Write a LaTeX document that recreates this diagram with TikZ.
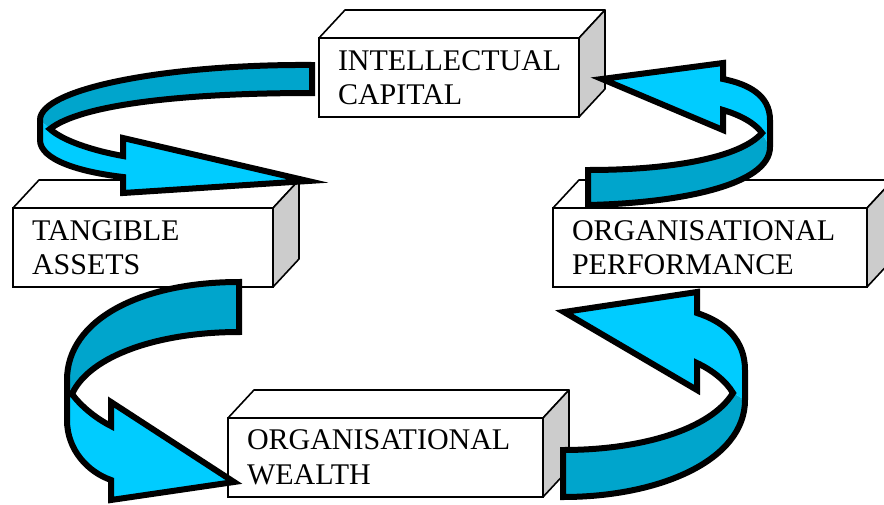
\documentclass[tikz,border=0pt]{standalone}
\usepackage{fontspec}
\setmainfont{Liberation Serif}
\usetikzlibrary{calc}
\uchyph=0
\definecolor{arrowfront}{RGB}{0,204,255}
\definecolor{arrowback}{RGB}{0,165,204}
\definecolor{boxside}{RGB}{204,204,204}
\begin{document}
\begin{tikzpicture}[x=1pt,y=-1pt,
  boxfront/.style={draw=black, line width=1.6pt, fill=white, anchor=north west,
    minimum height=79pt, inner xsep=19pt, inner ysep=0pt, outer sep=0pt,
    align=left, font=\fontsize{30}{34.5}\selectfont},
  boxface/.style={draw=black, line width=1.6pt, line join=round},
  bandback/.style={fill=arrowback},
  bandfront/.style={fill=arrowfront},
  bandline/.style={draw=black, line width=6pt, line join=miter},
]
\useasboundingbox (0,0) rectangle (884,504);

% the four blocks: front faces carry the labels
\node[boxfront, text width=222pt] (ic) at (319,38)  {INTELLECTUAL\\CAPITAL};
\node[boxfront, text width=222pt] (ta) at (13,208)  {TANGIBLE\\ASSETS};
\node[boxfront, text width=276pt] (op) at (553,208) {ORGANISATIONAL\\PERFORMANCE};
\node[boxfront, text width=277pt] (ow) at (228,418) {ORGANISATIONAL\\WEALTH};

% top and side faces of each block
\foreach \n in {ic,ta,op,ow} {
  \draw[boxface, fill=white] (\n.north west) -- ($(\n.north west)+(26,-28)$)
    -- ($(\n.north east)+(26,-28)$) -- (\n.north east) -- cycle;
  \draw[boxface, fill=boxside] (\n.north east) -- ($(\n.north east)+(26,-28)$)
    -- ($(\n.south east)+(26,-28)$) -- (\n.south east) -- cycle;
}

% curved band from intellectual capital to tangible assets
\coordinate (s1t) at (312,65);
\coordinate (s1b) at (312,93);
\coordinate (j1o) at (40,120);
\coordinate (j1i) at (50,129);
\coordinate (h1) at (308,181);
\fill[bandback] (s1t) .. controls (170,64) and (40,88) .. (j1o) -- (j1i)
  .. controls (80,105) and (180,93) .. (s1b) -- cycle;
\fill[bandfront] (j1o) -- (40,140) .. controls (40,160) and (80,172) .. (123,177)
  -- (123,193) -- (h1) -- (123,138) -- (123,156)
  .. controls (90,150) and (62,140) .. (j1i) -- cycle;
\draw[bandline] (s1t) .. controls (170,64) and (40,88) .. (j1o)
  -- (40,140) .. controls (40,160) and (80,172) .. (123,177)
  -- (123,193) -- (h1) -- (123,138) -- (123,156)
  .. controls (90,150) and (62,140) .. (j1i)
  .. controls (80,105) and (180,93) .. (s1b) -- cycle;

% curved band from organisational performance to intellectual capital
\coordinate (s2t) at (588,170);
\coordinate (s2b) at (588,205);
\coordinate (j2o) at (770,147);
\coordinate (j2i) at (762,133);
\coordinate (h2) at (602,79);
\fill[bandback] (s2b) .. controls (680,203) and (770,185) .. (j2o) -- (j2i)
  .. controls (740,158) and (670,170) .. (s2t) -- cycle;
\fill[bandfront] (j2o) -- (770,120) .. controls (770,95) and (748,84) .. (723,79)
  -- (723,63) -- (h2) -- (723,130) -- (723,110)
  .. controls (740,115) and (755,123) .. (j2i) -- cycle;
\draw[bandline] (s2b) .. controls (680,203) and (770,185) .. (j2o)
  -- (770,120) .. controls (770,95) and (748,84) .. (723,79)
  -- (723,63) -- (h2) -- (723,130) -- (723,110)
  .. controls (740,115) and (755,123) .. (j2i)
  .. controls (740,158) and (670,170) .. (s2t) -- cycle;

% curved band from tangible assets to organisational wealth
\coordinate (s3t) at (239,282);
\coordinate (s3b) at (239,332);
\coordinate (j3o) at (67,380);
\coordinate (j3i) at (72,394);
\coordinate (h3) at (234,482);
\fill[bandback] (s3t) .. controls (140,282) and (67,320) .. (j3o) -- (j3i)
  .. controls (90,355) and (160,332) .. (s3b) -- cycle;
\fill[bandfront] (j3o) -- (67,420) .. controls (67,450) and (88,472) .. (111,480)
  -- (111,500) -- (h3) -- (111,402) -- (111,426)
  .. controls (95,418) and (80,405) .. (j3i) -- cycle;
\draw[bandline] (s3t) .. controls (140,282) and (67,320) .. (j3o)
  -- (67,420) .. controls (67,450) and (88,472) .. (111,480)
  -- (111,500) -- (h3) -- (111,402) -- (111,426)
  .. controls (95,418) and (80,405) .. (j3i)
  .. controls (90,355) and (160,332) .. (s3b) -- cycle;

% curved band from organisational wealth to organisational performance
\coordinate (s4t) at (563,450);
\coordinate (s4b) at (563,497);
\coordinate (j4o) at (745,400);
\coordinate (j4i) at (733,393);
\coordinate (h4) at (564,312);
\fill[bandback] (s4b) .. controls (660,497) and (745,460) .. (j4o) -- (j4i)
  .. controls (710,430) and (640,450) .. (s4t) -- cycle;
\fill[bandfront] (j4o) -- (745,370) .. controls (745,340) and (725,322) .. (697,313)
  -- (697,292) -- (h4) -- (697,390) -- (697,363)
  .. controls (712,370) and (726,381) .. (j4i) -- cycle;
\draw[bandline] (s4b) .. controls (660,497) and (745,460) .. (j4o)
  -- (745,370) .. controls (745,340) and (725,322) .. (697,313)
  -- (697,292) -- (h4) -- (697,390) -- (697,363)
  .. controls (712,370) and (726,381) .. (j4i)
  .. controls (710,430) and (640,450) .. (s4t) -- cycle;
\end{tikzpicture}
\end{document}
